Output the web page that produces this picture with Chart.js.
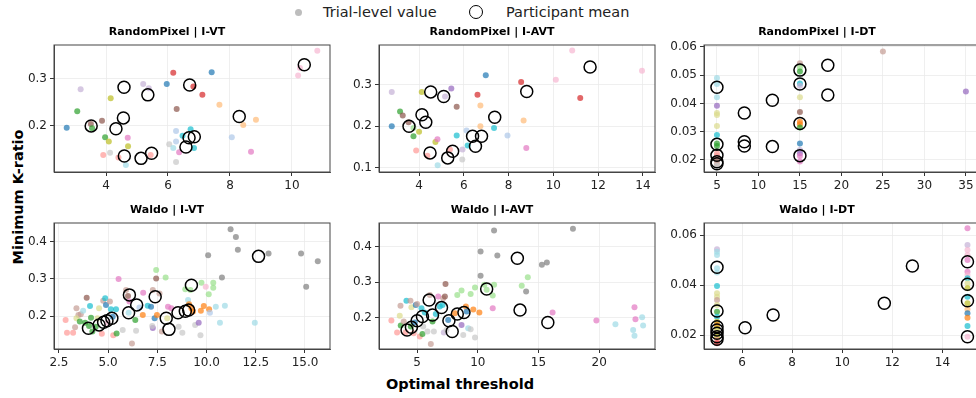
<!DOCTYPE html>
<html>
<head>
<meta charset="utf-8">
<script src="https://cdn.jsdelivr.net/npm/chart.js@4.4.0/dist/chart.umd.min.js"></script>
<style>
  html, body { margin: 0; padding: 0; width: 976px; height: 398px; overflow: hidden; background: #fff; font-family: "DejaVu Sans", sans-serif; }
  canvas { position: absolute; }
  .txt { position: absolute; white-space: nowrap; color: #222; font-size: 14.5px; line-height: 18px; }
  .bold { font-weight: bold; color: #000; }
</style>
</head>
<body>
<div style="position:absolute;left:295px;top:9px;width:7px;height:7px;border-radius:50%;background:#bdbdbd;"></div>
<div class="txt" style="left:323px;top:3px;">Trial-level value</div>
<div style="position:absolute;left:469px;top:5px;width:12px;height:12px;border-radius:50%;border:1.5px solid #000;"></div>
<div class="txt" style="left:506px;top:3px;">Participant mean</div>
<div class="txt bold" style="left:18px;top:197px;transform:translate(-50%,-50%) rotate(-90deg);">Minimum K-ratio</div>
<div class="txt bold" style="left:460px;top:384px;transform:translate(-50%,-50%);">Optimal threshold</div>

<script>
// tab20 colours, trial dots are coloured by participant
const palette = ['#1f77b4','#aec7e8','#ff7f0e','#ffbb78','#2ca02c','#98df8a','#d62728','#ff9896','#9467bd','#c5b0d5',
                 '#8c564b','#c49c94','#e377c2','#f7b6d2','#7f7f7f','#c7c7c7','#bcbd22','#dbdb8d','#17becf','#9edae5'];
const B=0, LB=1, O=2, LO=3, G=4, LG=5, R=6, LR=7, P=8, LP=9, BR=10, LBR=11, PK=12, LPK=13, GR=14, LGR=15, OL=16, LOL=17, C=18, LC=19;

// [x, y, colour]
const rpVtTrials = [[2.73,0.196,B],[3.18,0.278,LP],[3.07,0.231,G],[3.51,0.204,BR],[3.55,0.195,G],[3.87,0.211,BR],[4.15,0.259,OL],
  [3.97,0.176,G],[4.09,0.167,OL],[3.91,0.138,LR],[4.13,0.143,LGR],[4.40,0.133,LR],[4.64,0.117,LC],[4.70,0.175,PK],[4.71,0.157,OL],
  [5.20,0.289,LP],[5.38,0.280,LP],[5.44,0.138,LR],[5.96,0.289,B],[6.17,0.313,R],[6.28,0.236,BR],[6.26,0.189,LB],[6.26,0.167,LB],
  [6.04,0.161,LGR],[6.17,0.153,LC],[6.26,0.123,LGR],[6.36,0.144,PK],[6.47,0.179,C],[6.73,0.193,C],[6.82,0.284,R],[6.84,0.153,C],
  [7.11,0.266,R],[7.41,0.314,B],[7.66,0.245,LO],[8.06,0.176,LB],[8.43,0.202,LO],[8.84,0.213,LO],[8.68,0.145,PK],[10.20,0.307,LPK],
  [10.26,0.323,LPK],[10.82,0.360,LPK]];
const rpVtMeans = [[3.52,0.200],[4.32,0.194],[4.56,0.217],[4.58,0.282],[4.59,0.136],[5.13,0.131],[5.47,0.142],[5.35,0.266],
  [6.70,0.287],[6.58,0.155],[6.68,0.175],[6.85,0.177],[8.30,0.220],[10.40,0.330]];

const rpAvtTrials = [[2.78,0.283,LP],[2.78,0.200,B],[3.15,0.236,G],[3.27,0.226,BR],[3.53,0.210,BR],[3.75,0.176,G],[3.75,0.196,LG],
  [4.00,0.187,OL],[3.87,0.142,LR],[4.12,0.283,OL],[4.37,0.129,LR],[4.73,0.162,OL],[4.82,0.169,PK],[4.83,0.106,LC],[5.16,0.272,LP],
  [5.44,0.291,P],[5.68,0.247,BR],[5.68,0.178,C],[5.38,0.144,LR],[5.93,0.120,LGR],[5.94,0.144,LP],[6.12,0.190,LB],[6.17,0.154,C],
  [6.61,0.276,R],[6.74,0.250,LO],[6.74,0.200,LO],[6.98,0.323,B],[7.35,0.196,C],[7.95,0.178,LB],[8.56,0.307,R],[8.67,0.214,LO],
  [8.79,0.148,PK],[10.11,0.312,LPK],[10.84,0.383,LPK],[11.20,0.268,R],[13.96,0.334,LPK]];
const rpAvtMeans = [[3.55,0.200],[4.13,0.228],[4.30,0.210],[4.52,0.283],[4.49,0.136],[5.10,0.272],[5.50,0.140],[5.28,0.124],
  [6.39,0.176],[6.52,0.152],[6.79,0.176],[7.38,0.222],[8.81,0.284],[11.64,0.343]];

const rpDtTrials = [[5,0.0490,LC],[5,0.0469,LC],[5,0.0422,LC],[5,0.0392,P],[5,0.0366,LOL],[5,0.0359,LOL],[5,0.0320,LOL],[5,0.0288,C],
  [5,0.0258,G],[5,0.0249,G],[5,0.0223,LR],[5,0.0214,LR],[5,0.0200,BR],[5,0.0186,LBR],[5,0.0179,LGR],
  [15,0.0542,LBR],[15,0.0527,LG],[15,0.0513,G],[15,0.0471,C],[15,0.0463,LP],[15,0.0422,LOL],[15,0.0370,BR],[15,0.0335,O],
  [15,0.0326,O],[15,0.0315,G],[15,0.0258,B],[15,0.0235,LP],[15,0.0223,P],[15,0.0214,PK],[15,0.0194,PK],[25,0.0584,LBR],[35,0.0442,P]];
const rpDtMeans = [[5,0.0457],[5,0.0255],[5,0.0216],[5,0.0193],[5,0.0186],[8.3,0.0366],[8.3,0.0264],[8.3,0.0249],[11.68,0.0411],
  [11.68,0.0247],[15,0.0518],[15,0.0469],[15,0.0329],[15,0.0215],[18.36,0.0535],[18.36,0.0430]];

const wVtTrials = [[2.84,0.189,LR],[2.91,0.155,LR],[3.22,0.155,LR],[3.32,0.170,LBR],[3.39,0.221,LBR],[3.49,0.203,LBR],[3.39,0.194,LOL],
  [3.61,0.205,LBR],[3.73,0.214,LC],[3.56,0.185,G],[3.83,0.182,G],[3.91,0.249,BR],[4.08,0.227,C],[4.13,0.195,G],[4.03,0.173,G],
  [4.20,0.158,G],[4.46,0.194,LOL],[4.54,0.221,LOL],[4.68,0.152,LR],[4.37,0.171,G],[4.75,0.241,LBR],[4.85,0.248,C],[4.89,0.230,B],
  [4.97,0.182,LPK],[5.09,0.239,LBR],[5.14,0.218,C],[5.23,0.198,B],[5.26,0.148,LR],[5.40,0.218,C],[5.43,0.153,G],[5.53,0.300,PK],
  [5.74,0.162,LGR],[5.91,0.270,LBR],[6.01,0.254,BR],[6.08,0.239,PK],[6.04,0.209,LC],[6.21,0.126,LBR],[6.38,0.189,G],[6.42,0.160,LGR],
  [6.59,0.223,LB],[6.76,0.203,O],[6.78,0.263,PK],[7.01,0.228,C],[7.18,0.225,B],[7.27,0.270,LBR],[7.44,0.301,BR],[7.44,0.324,LG],
  [7.36,0.194,B],[7.48,0.203,O],[7.61,0.261,LBR],[7.27,0.168,P],[7.24,0.173,LGR],[7.73,0.158,LBR],[7.92,0.304,LG],[8.04,0.225,PK],
  [8.00,0.194,LOL],[8.21,0.221,PK],[8.58,0.171,LGR],[8.77,0.155,LGR],[8.92,0.272,LG],[9.06,0.243,LC],[9.11,0.232,O],[9.18,0.270,LG],
  [9.23,0.221,O],[9.31,0.212,O],[9.42,0.176,LGR],[9.60,0.182,P],[9.69,0.148,LGR],[9.71,0.214,O],[9.74,0.290,LG],[9.86,0.227,O],
  [9.96,0.279,LPK],[10.08,0.364,GR],[10.13,0.218,O],[10.11,0.259,LG],[10.17,0.209,LB],[10.34,0.290,LG],[10.34,0.276,LG],
  [10.47,0.225,LC],[10.68,0.182,LC],[10.78,0.304,GR],[10.93,0.228,LC],[11.22,0.434,GR],[11.49,0.413,GR],[11.59,0.379,GR],
  [12.45,0.182,LC],[13.15,0.369,GR],[14.80,0.369,GR],[15.06,0.279,GR],[15.65,0.348,GR]];
const wVtMeans = [[4.00,0.167],[4.54,0.176],[4.77,0.183],[4.94,0.187],[5.19,0.194],[6.08,0.257],[6.04,0.209],[6.45,0.230],
  [7.39,0.252],[7.95,0.194],[8.09,0.164],[8.55,0.209],[8.92,0.213],[9.09,0.216],[9.23,0.283],[12.64,0.361]];

const wAvtTrials = [[2.88,0.193,LR],[3.35,0.159,LR],[3.57,0.206,LOL],[3.63,0.234,LBR],[3.65,0.179,G],[3.90,0.190,LBR],[4.12,0.248,C],
  [4.06,0.160,LR],[4.45,0.248,LBR],[4.48,0.176,G],[4.53,0.230,LOL],[4.72,0.157,LR],[4.81,0.187,B],[4.89,0.236,B],[5.00,0.239,LBR],
  [5.22,0.148,LR],[5.36,0.227,C],[5.50,0.176,LGR],[5.63,0.215,C],[5.44,0.155,G],[5.85,0.162,LGR],[6.05,0.264,LBR],[6.13,0.127,LBR],
  [6.27,0.190,G],[6.38,0.162,LGR],[6.54,0.211,C],[6.74,0.260,PK],[6.87,0.232,C],[7.15,0.255,LBR],[7.34,0.295,BR],[7.09,0.236,C],
  [7.29,0.260,BR],[7.56,0.194,B],[7.20,0.159,LP],[7.42,0.166,LGR],[8.11,0.213,O],[8.31,0.264,LG],[8.66,0.277,LG],[8.66,0.180,P],
  [8.80,0.152,LGR],[9.02,0.232,O],[9.08,0.218,B],[9.21,0.171,LC],[9.41,0.267,LG],[9.41,0.168,LGR],[9.63,0.224,O],[9.77,0.285,LG],
  [9.77,0.145,LGR],[10.13,0.215,O],[10.23,0.386,GR],[10.23,0.318,GR],[10.54,0.293,LG],[10.73,0.279,LG],[11.23,0.263,LG],
  [11.23,0.227,PK],[11.34,0.445,GR],[11.34,0.293,LG],[11.61,0.375,GR],[13.62,0.290,LG],[13.98,0.274,GR],[14.12,0.314,LG],
  [15.28,0.349,GR],[15.69,0.355,GR],[16.16,0.215,PK],[17.84,0.450,GR],[19.77,0.193,PK],[21.34,0.182,LC],[22.80,0.166,LC],
  [22.91,0.150,LC],[22.91,0.230,PK],[22.99,0.196,PK],[23.54,0.202,LC],[23.62,0.179,LC]];
const wAvtMeans = [[4.17,0.166],[4.53,0.174],[5.00,0.192],[5.44,0.204],[5.99,0.250],[6.27,0.208],[7.01,0.229],[7.62,0.192],
  [7.89,0.162],[8.31,0.211],[8.86,0.215],[10.73,0.281],[13.26,0.367],[13.48,0.222],[15.77,0.187]];

const wDtTrials = [[5,0.0543,LP],[5,0.0533,LC],[5,0.0520,LC],[5,0.0467,LC],[5,0.0450,LC],[5,0.0396,C],[5,0.0367,LOL],[5,0.0353,LOL],
  [5,0.0340,LBR],[5,0.0320,LOL],[5,0.0293,G],[5,0.0273,C],[5,0.0253,OL],[5,0.0240,O],[5,0.0227,OL],[5,0.0213,LOL],[5,0.0193,OL],
  [5,0.0180,LR],[5,0.0167,R],
  [15,0.0627,PK],[15,0.0560,LP],[15,0.0540,LPK],[15,0.0520,LPK],[15,0.0500,PK],[15,0.0453,PK],[15,0.0440,LPK],[15,0.0427,C],
  [15,0.0407,LOL],[15,0.0387,OL],[15,0.0353,C],[15,0.0327,OL],[15,0.0303,LO],[15,0.0287,B],[15,0.0269,O],[15,0.0236,C],[15,0.0193,LPK]];
const wDtMeans = [[5,0.0471],[5,0.0296],[5,0.0233],[5,0.0220],[5,0.0207],[5,0.0193],[5,0.0183],[6.12,0.0229],[7.24,0.0280],
  [11.68,0.0327],[12.8,0.0476],[15,0.0493],[15,0.0403],[15,0.0337],[15,0.0193]];

const panels = [
  {title: 'RandomPixel | I-VT',  trials: rpVtTrials,  means: rpVtMeans,  left: 54,  top: 45,  h: 127, x: [2.32, 11.23, 2, 0],   y: [0.102, 0.372, 0.1, 1]},
  {title: 'RandomPixel | I-AVT', trials: rpAvtTrials, means: rpAvtMeans, left: 379, top: 45,  h: 127, x: [2.21, 14.54, 2, 0],   y: [0.09, 0.396, 0.1, 1]},
  {title: 'RandomPixel | I-DT',  trials: rpDtTrials,  means: rpDtMeans,  left: 704, top: 45,  h: 127, x: [3.44, 36.7, 5, 0],    y: [0.0157, 0.0607, 0.01, 2]},
  {title: 'Waldo | I-VT',        trials: wVtTrials,   means: wVtMeans,   left: 54,  top: 223, h: 126, x: [2.25, 16.27, 2.5, 1], y: [0.111, 0.451, 0.1, 1]},
  {title: 'Waldo | I-AVT',       trials: wAvtTrials,  means: wAvtMeans,  left: 379, top: 223, h: 126, x: [1.86, 24.6, 5, 0],    y: [0.113, 0.466, 0.1, 1]},
  {title: 'Waldo | I-DT',        trials: wDtTrials,   means: wDtMeans,   left: 704, top: 223, h: 126, x: [4.48, 15.5, 2, 0],    y: [0.0144, 0.0648, 0.02, 2]}
];

const PLOT_W = 276, Y_AXIS_W = 50, X_AXIS_H = 22, TITLE_H = 24;

function rgba(hex, a) {
  const n = parseInt(hex.slice(1), 16);
  return `rgba(${n >> 16},${(n >> 8) & 255},${n & 255},${a})`;
}

function axis(lim, isX) {
  return {
    type: 'linear', min: lim[0], max: lim[1],
    ticks: {
      stepSize: lim[2], includeBounds: false, autoSkip: false, maxRotation: 0,
      color: '#222', padding: 3, font: {family: 'DejaVu Sans', size: 12},
      callback: v => Number(v).toFixed(lim[3])
    },
    grid: {color: '#ebebeb', lineWidth: 0.8, tickLength: 4, tickColor: '#333', tickWidth: 1},
    border: {display: true, color: '#444', width: 1},
    afterFit: s => { if (isX) s.height = X_AXIS_H; else s.width = Y_AXIS_W; }
  };
}

// matplotlib style box round the axes
const framePlugin = {
  id: 'frame',
  afterDraw(chart) {
    const {ctx, chartArea: a} = chart;
    ctx.save();
    ctx.strokeStyle = '#444';
    ctx.lineWidth = 1;
    ctx.strokeRect(a.left, a.top, a.right - a.left, a.bottom - a.top);
    ctx.restore();
  }
};

panels.forEach(p => {
  const canvas = document.createElement('canvas');
  canvas.width = PLOT_W + 2 * Y_AXIS_W;
  canvas.height = TITLE_H + p.h + X_AXIS_H;
  canvas.style.left = (p.left - Y_AXIS_W) + 'px';
  canvas.style.top = (p.top - TITLE_H) + 'px';
  document.body.appendChild(canvas);

  new Chart(canvas, {
    type: 'scatter',
    data: {
      datasets: [
        {
          data: p.means.map(m => ({x: m[0], y: m[1]})),
          pointRadius: 6, pointBackgroundColor: 'rgba(0,0,0,0)',
          pointBorderColor: '#000', pointBorderWidth: 1.5
        },
        {
          data: p.trials.map(t => ({x: t[0], y: t[1]})),
          pointRadius: 3, pointBorderWidth: 0,
          pointBackgroundColor: p.trials.map(t => rgba(palette[t[2]], 0.7))
        }
      ]
    },
    options: {
      responsive: false,
      animation: false,
      devicePixelRatio: 1,
      layout: {padding: {right: Y_AXIS_W}},
      scales: {x: axis(p.x, true), y: axis(p.y, false)},
      plugins: {
        legend: {display: false},
        tooltip: {enabled: false},
        title: {
          display: true, text: p.title, color: '#000',
          font: {family: 'DejaVu Sans', size: 11, weight: 'bold'},
          padding: {top: 5, bottom: 5.8}
        }
      }
    },
    plugins: [framePlugin]
  });
});
</script>
</body>
</html>
